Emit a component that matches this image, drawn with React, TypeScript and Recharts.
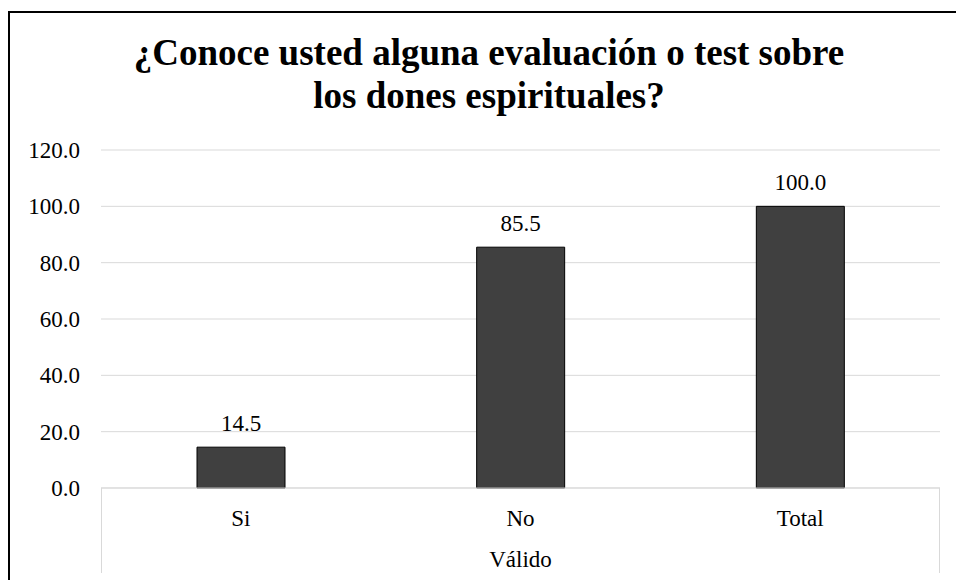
import { Bar, BarChart, CartesianGrid, LabelList, XAxis, YAxis } from 'recharts';

const categories = ['Si', 'No', 'Total'];
const porcentaje = [14.5, 85.5, 100.0];
const yTicks = [0, 20, 40, 60, 80, 100, 120];
const titleLines = ['¿Conoce usted alguna evaluación o test sobre', 'los dones espirituales?'];
const groupLabel = 'Válido';

const data = categories.map((c, i) => ({ name: c, value: porcentaje[i] }));

const FONT = 'Liberation Serif';
const GRID = '#d9d9d9';
const textStyle = { fontFamily: FONT, fontSize: 23, fill: '#000' };

export default function App() {
  return (
    <div
      style={{
        position: 'fixed',
        left: 0,
        top: 0,
        width: 956,
        height: 580,
        overflow: 'hidden',
        background: '#fff',
        fontFamily: FONT,
      }}
    >
      {/* marco del gráfico (solo se ven borde izquierdo y superior) */}
      <div
        style={{
          position: 'absolute',
          left: 8,
          top: 11,
          width: 1000,
          height: 700,
          borderLeft: '2px solid #000',
          borderTop: '2px solid #000',
        }}
      />
      <BarChart
        width={956}
        height={580}
        data={data}
        margin={{ top: 150, right: 16, bottom: 0, left: 0 }}
        style={{ position: 'absolute', left: 0, top: 0, fontFamily: FONT }}
      >
        <CartesianGrid stroke={GRID} strokeWidth={1} vertical={false} />
        <XAxis
          dataKey="name"
          height={92}
          axisLine={{ stroke: GRID, strokeWidth: 1 }}
          tickLine={false}
          tickMargin={16}
          tick={{ ...textStyle, style: textStyle }}
          label={{
            value: groupLabel,
            position: 'insideBottom',
            offset: 13,
            ...textStyle,
            style: textStyle,
          }}
        />
        <YAxis
          width={101}
          domain={[0, 120]}
          ticks={yTicks}
          axisLine={false}
          tickLine={false}
          tickMargin={15}
          tickFormatter={(v: number) => v.toFixed(1)}
          tick={{ ...textStyle, style: textStyle }}
        />
        <Bar
          dataKey="value"
          barSize={88}
          fill="#404040"
          stroke="#000"
          strokeWidth={1}
          isAnimationActive={false}
        >
          <LabelList
            dataKey="value"
            position="top"
            offset={16}
            formatter={(v: number) => Number(v).toFixed(1)}
            {...textStyle}
            style={textStyle}
          />
        </Bar>
      </BarChart>
      <svg
        width={956}
        height={580}
        style={{ position: 'absolute', left: 0, top: 0, pointerEvents: 'none' }}
      >
        {titleLines.map((line, i) => (
          <text
            key={i}
            x={489}
            y={65 + i * 43}
            textAnchor="middle"
            style={{ fontFamily: FONT, fontWeight: 'bold', fontSize: 37, fill: '#000' }}
          >
            {line}
          </text>
        ))}
        {/* líneas del eje de categorías de dos niveles */}
        <line x1={101.5} x2={101.5} y1={488} y2={573} stroke={GRID} strokeWidth={1} />
        <line x1={939.5} x2={939.5} y1={488} y2={573} stroke={GRID} strokeWidth={1} />
      </svg>
    </div>
  );
}
